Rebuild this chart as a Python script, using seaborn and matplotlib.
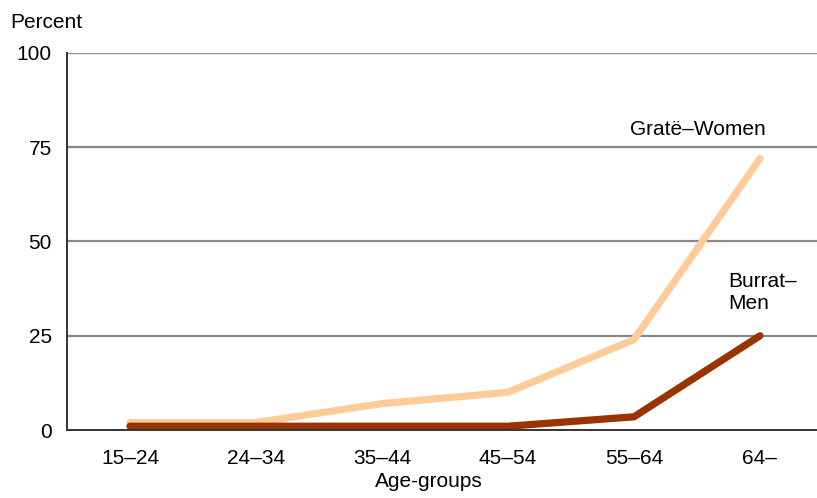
import matplotlib
matplotlib.use("Agg")
import matplotlib.pyplot as plt
import numpy as np
import pandas as pd
import seaborn as sns

AGE_GROUPS = ["15–24", "24–34", "35–44", "45–54", "55–64", "64–"]
WOMEN = [2, 2, 7, 10, 24, 72]
MEN = [1, 1, 1, 1, 3.5, 25]
SERIES = ["Gratë–Women", "Burrat–Men"]
COLORS = {"Gratë–Women": "#FFCC99", "Burrat–Men": "#993300"}
Y_TICKS = [0, 25, 50, 75, 100]

sns.set_style("white")
plt.rcParams["font.family"] = ["Liberation Sans", "DejaVu Sans"]
plt.rcParams["text.color"] = "black"
plt.rcParams["xtick.labelcolor"] = "black"
plt.rcParams["ytick.labelcolor"] = "black"

FS = 15

df = pd.DataFrame({
    "Age-groups": AGE_GROUPS * 2,
    "Percent": WOMEN + MEN,
    "Series": [SERIES[0]] * len(AGE_GROUPS) + [SERIES[1]] * len(AGE_GROUPS),
})

fig = plt.figure(figsize=(8.17, 4.98), dpi=100)
ax = fig.add_axes([67 / 817, 68 / 498, 756 / 817, 377 / 498])

sns.lineplot(
    data=df, x="Age-groups", y="Percent", hue="Series", palette=COLORS,
    hue_order=SERIES, sort=False, linewidth=5.2, solid_capstyle="round",
    legend=False, ax=ax,
)

ax.set_xlim(-0.5, len(AGE_GROUPS) - 0.5)
ax.set_ylim(0, 100)
ax.set_yticks(Y_TICKS)
ax.set_yticklabels([str(t) for t in Y_TICKS])
ax.set_xticks(range(len(AGE_GROUPS)))
ax.set_xticklabels(AGE_GROUPS)
ax.set_xticks(np.arange(-0.5, len(AGE_GROUPS)), minor=True)
ax.tick_params(axis="x", which="major", length=0, pad=14, labelsize=FS)
ax.tick_params(axis="x", which="minor", length=5, width=1, color="#333333", direction="out")
ax.tick_params(axis="y", length=5, width=1, color="#333333", direction="out", pad=6, labelsize=FS)
ax.set_xlabel("")
ax.set_ylabel("")

for t in Y_TICKS[1:]:
    ax.axhline(t, color="#888888", linewidth=1.6, zorder=0)

for side in ["top", "right"]:
    ax.spines[side].set_visible(False)
for side in ["left", "bottom"]:
    ax.spines[side].set_color("#333333")
    ax.spines[side].set_linewidth(1.4)

ax.text(4.51, 79.8, "Gratë–Women", ha="center", va="center", fontsize=FS)
ax.text(4.75, 36.4, "Burrat–\nMen", ha="left", va="center", fontsize=FS, linespacing=1.2)

fig.text(10 / 817, 1 - 28 / 498, "Percent", ha="left", va="baseline", fontsize=FS)
fig.text(429 / 817, 11 / 498, "Age-groups", ha="center", va="baseline", fontsize=FS)

fig.savefig("out.png", dpi=100)
